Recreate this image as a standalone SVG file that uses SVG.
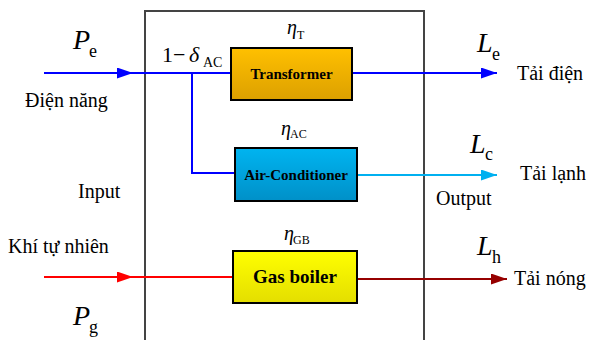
<svg xmlns="http://www.w3.org/2000/svg" width="592" height="340" viewBox="0 0 592 340" font-family="'Liberation Serif', 'Times New Roman', serif">
<defs>
<style>
text{font-family:'Liberation Serif','Times New Roman',serif;fill:#000}
.lbl{font-size:20px}
.big{font-size:28px;font-style:italic}
.sub{font-size:18px}
.eta{font-size:20px;font-style:italic}
.esub{font-size:12px}
.box{stroke:#000;stroke-width:2}
.bl{font-weight:bold;text-anchor:middle}
.wire{fill:none;stroke-width:2}
</style>
<linearGradient id="gT" x1="0" y1="0" x2="0" y2="1"><stop offset="0" stop-color="#FFC000"/><stop offset="1" stop-color="#DCA000"/></linearGradient>
<linearGradient id="gA" x1="0" y1="0" x2="0" y2="1"><stop offset="0" stop-color="#00B4F0"/><stop offset="1" stop-color="#0090C8"/></linearGradient>
<linearGradient id="gG" x1="0" y1="0" x2="0" y2="1"><stop offset="0" stop-color="#FFFF00"/><stop offset="1" stop-color="#E4DE00"/></linearGradient>
<marker id="aB" markerUnits="userSpaceOnUse" markerWidth="17" markerHeight="11" refX="16" refY="5.5" orient="auto"><path d="M0,0 L16,5.5 L0,11 Z" fill="#0000FF"/></marker>
<marker id="aL" markerUnits="userSpaceOnUse" markerWidth="17" markerHeight="11" refX="16" refY="5.5" orient="auto"><path d="M0,0 L16,5.5 L0,11 Z" fill="#00B0F0"/></marker>
<marker id="aR" markerUnits="userSpaceOnUse" markerWidth="17" markerHeight="11" refX="16" refY="5.5" orient="auto"><path d="M0,0 L16,5.5 L0,11 Z" fill="#FF0000"/></marker>
<marker id="aD" markerUnits="userSpaceOnUse" markerWidth="17" markerHeight="11" refX="16" refY="5.5" orient="auto"><path d="M0,0 L16,5.5 L0,11 Z" fill="#960000"/></marker>
</defs>
<rect x="0" y="0" width="592" height="340" fill="#fff"/>
<g id="system">
<rect x="145" y="11" width="279" height="340" fill="none" stroke="#444" stroke-width="2"/>
</g>
<g id="connectors">
<path class="wire" d="M44,73 H133" stroke="#0000FF" marker-end="url(#aB)"/>
<path class="wire" d="M133,73 H231" stroke="#0000FF"/>
<path class="wire" d="M192,73 V173 H235" stroke="#0000FF"/>
<path class="wire" d="M352,73 H497" stroke="#0000FF" marker-end="url(#aB)"/>
<path class="wire" d="M357,175 H497" stroke="#00B0F0" marker-end="url(#aL)"/>
<path class="wire" d="M44,277 H133" stroke="#FF0000" marker-end="url(#aR)"/>
<path class="wire" d="M133,277 H233" stroke="#FF0000"/>
<path class="wire" d="M357,279 H507" stroke="#960000" marker-end="url(#aD)"/>
</g>
<g id="transformer">
<rect class="box" x="231" y="48" width="121" height="52" fill="url(#gT)"/>
<text class="bl" x="291.5" y="79" font-size="15">Transformer</text>
<text class="eta" x="287" y="34">η</text><text class="esub" x="297" y="39">T</text>
</g>
<g id="air-conditioner">
<rect class="box" x="235" y="148" width="122" height="53" fill="url(#gA)"/>
<text class="bl" x="296" y="180" font-size="15">Air-Conditioner</text>
<text class="eta" x="281" y="135">η</text><text class="esub" x="290" y="138">AC</text>
</g>
<g id="gas-boiler">
<rect class="box" x="233" y="251" width="124" height="52" fill="url(#gG)"/>
<text class="bl" x="295" y="283" font-size="19">Gas boiler</text>
<text class="eta" x="284" y="240">η</text><text class="esub" x="293" y="244">GB</text>
</g>
<g id="split">
<text x="162" y="62" font-size="22">1</text>
<text x="173" y="62" font-size="22">−</text>
<text x="189" y="62" font-size="22" font-style="italic">δ</text>
<text x="203" y="67" font-size="14">AC</text>
</g>
<g id="input-e">
<text class="big" x="73" y="49">P</text><text class="sub" x="89" y="57">e</text>
<text class="lbl" x="25" y="107">Điện năng</text>
</g>
<g id="input-g">
<text class="lbl" x="8" y="253">Khí tự nhiên</text>
<text class="big" x="73" y="325">P</text><text class="sub" x="89" y="333">g</text>
</g>
<text class="lbl" x="78" y="198">Input</text>
<text class="lbl" x="436" y="205">Output</text>
<g id="load-e">
<text class="big" x="477" y="52">L</text><text class="sub" x="492" y="60">e</text>
<text class="lbl" x="517" y="80">Tải điện</text>
</g>
<g id="load-c">
<text class="big" x="470" y="153">L</text><text class="sub" x="485" y="160">c</text>
<text class="lbl" x="520" y="180">Tải lạnh</text>
</g>
<g id="load-h">
<text class="big" x="477" y="255">L</text><text class="sub" x="492" y="263">h</text>
<text class="lbl" x="514" y="285">Tải nóng</text>
</g>
</svg>
